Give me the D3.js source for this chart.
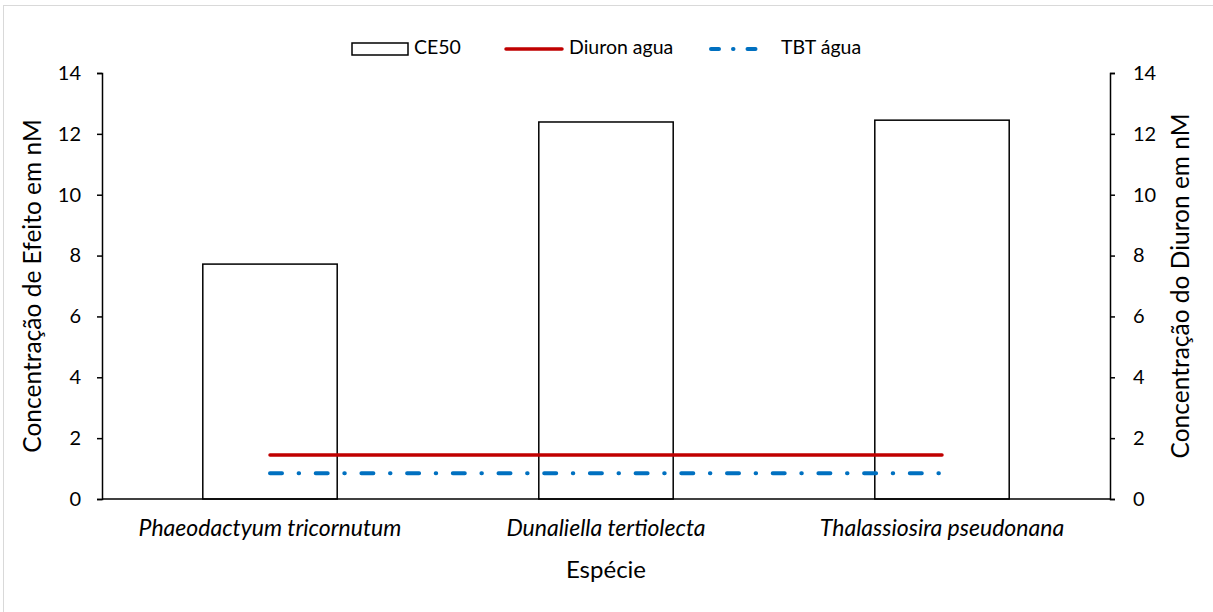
<!DOCTYPE html>
<html><head><meta charset="utf-8">
<script src="https://cdn.jsdelivr.net/npm/d3@7"></script>
<style>body{margin:0;background:#fff}svg{display:block}text{font-family:Lato,"Open Sans",sans-serif;fill:#000}</style>
</head><body>
<svg id="c" width="1213" height="612"></svg>
<script>
const categories = ["Phaeodactyum tricornutum", "Dunaliella tertiolecta", "Thalassiosira pseudonana"];
const ce50 = [7.72, 12.39, 12.45];
const diuronAgua = [1.45, 1.45, 1.45];
const tbtAgua = [0.85, 0.85, 0.85];
const yTicks = [0, 2, 4, 6, 8, 10, 12, 14];

const svg = d3.select("#c");
const W = 1213, H = 612;
const FF = 'Lato,"Open Sans",sans-serif';
// frame
svg.append("rect").attr("x", 3.5).attr("y", 5.5).attr("width", W + 10).attr("height", H + 10)
  .attr("fill", "#fff").attr("stroke", "#d9d9d9").attr("stroke-width", 1);

const L = 102, R = 1110, T = 73, B = 499;
const x = d3.scaleBand().domain(categories).range([L, R]).paddingInner(0.6).paddingOuter(0.3);
const xc = d3.scaleBand().domain(categories).range([L, R]);
const yL = d3.scaleLinear().domain([0, 14]).range([B, T]);
const yR = d3.scaleLinear().domain([0, 14]).range([B, T]);

// bars
svg.append("g").selectAll("rect").data(categories).join("rect")
  .attr("x", d => x(d)).attr("width", x.bandwidth())
  .attr("y", (d, i) => yL(ce50[i])).attr("height", (d, i) => B - yL(ce50[i]))
  .attr("fill", "#fff").attr("stroke", "#000").attr("stroke-width", 1.5);

const line = vals => d3.line().x((d, i) => xc(categories[i]) + xc.bandwidth() / 2).y(d => yR(d))(vals);
svg.append("path").attr("d", line(diuronAgua)).attr("fill", "none")
  .attr("stroke", "#C00000").attr("stroke-width", 3.5).attr("stroke-linecap", "round");
svg.append("path").attr("d", line(tbtAgua)).attr("fill", "none")
  .attr("stroke", "#0070C0").attr("stroke-width", 4).attr("stroke-linecap", "round")
  .attr("stroke-dasharray", "12,16.6,0.5,16.6");

// axes
const gL = svg.append("g").attr("transform", `translate(${L},0)`)
  .call(d3.axisLeft(yL).tickValues(yTicks).tickSize(5).tickPadding(16));
const gR = svg.append("g").attr("transform", `translate(${R},0)`)
  .call(d3.axisRight(yR).tickValues(yTicks).tickSize(5).tickPadding(18));
const gB = svg.append("g").attr("transform", `translate(0,${B})`)
  .call(d3.axisBottom(xc).tickSize(0).tickPadding(21));
[gL, gR, gB].forEach(g => {
  g.select(".domain").attr("stroke", "#000").attr("stroke-width", 1.5);
  g.selectAll(".tick line").attr("stroke", "#000").attr("stroke-width", 1.5);
  g.selectAll("text").style("font-size", "20px").style("font-family", FF).attr("fill", "#000");
});
gB.selectAll("text").style("font-style", "italic").style("font-size", "23px");
gB.select(".domain").attr("d", `M${L},0H${R}`);

// titles
svg.append("text").attr("transform", `translate(41,${(T + B) / 2}) rotate(-90)`)
  .attr("text-anchor", "middle").style("font-size", "24.5px")
  .text("Concentração de Efeito em nM");
svg.append("text").attr("transform", `translate(1189,${(T + B) / 2}) rotate(-90)`)
  .attr("text-anchor", "middle").style("font-size", "24.5px")
  .text("Concentração do Diuron em nM");
svg.append("text").attr("x", (L + R) / 2).attr("y", 578).attr("text-anchor", "middle")
  .style("font-size", "24px").text("Espécie");

// legend
const lg = svg.append("g");
const ly = 49;
lg.append("rect").attr("x", 352).attr("y", 43).attr("width", 56).attr("height", 12)
  .attr("fill", "#fff").attr("stroke", "#000").attr("stroke-width", 1.5);
lg.append("text").attr("x", 414).attr("y", ly).attr("dominant-baseline", "middle").style("font-size", "19.5px").text("CE50");
lg.append("line").attr("x1", 506).attr("x2", 562).attr("y1", ly).attr("y2", ly)
  .attr("stroke", "#C00000").attr("stroke-width", 3.5).attr("stroke-linecap", "round");
lg.append("line").attr("x1", 711).attr("x2", 757).attr("y1", ly).attr("y2", ly)
  .attr("stroke", "#0070C0").attr("stroke-width", 4).attr("stroke-linecap", "round")
  .attr("stroke-dasharray", "8,14,0.5,14,8");
lg.append("text").attr("x", 569).attr("y", ly).attr("dominant-baseline", "middle").style("font-size", "19.5px").text("Diuron agua");
lg.append("text").attr("x", 781).attr("y", ly).attr("dominant-baseline", "middle").style("font-size", "19.5px").text("TBT água");
</script>
</body></html>
